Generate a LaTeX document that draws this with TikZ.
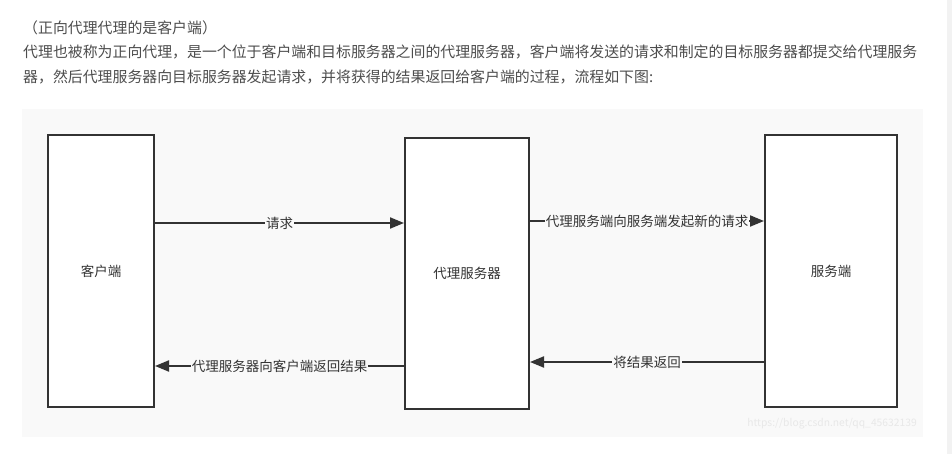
\documentclass[tikz,border=0pt]{standalone}
\usepackage{fontspec}
\newfontfamily\cjk{Noto Sans CJK SC}
\usepackage{tikz}
\usetikzlibrary{arrows.meta, positioning}
\definecolor{panelgray}{HTML}{F9F9F9}
\definecolor{linegray}{HTML}{333333}
\definecolor{textgray}{HTML}{4D4D4D}

\begin{document}
\begin{tikzpicture}[x=1pt, y=-1pt,
  every node/.style={font=\cjk},
  >={Triangle[length=14pt, width=11pt]},
  box/.style={draw=linegray, line width=2pt, fill=white, rectangle, inner sep=0pt,
    font=\cjk\fontsize{13.5}{16}\selectfont, text=linegray},
  arr/.style={->, draw=linegray, line width=2pt},
  lbl/.style={fill=panelgray, inner sep=1pt, text=linegray, font=\cjk\fontsize{13.5}{16}\selectfont},
  para/.style={anchor=west, inner sep=0pt, text=textgray, font=\cjk\fontsize{14.9}{18}\selectfont}]
  \useasboundingbox (0,0) rectangle (952,454);
  \fill[white] (0,0) rectangle (952,454);
  \fill[gray!10] (947,0) rectangle (952,454);

  % text above the drawing
  \node[para] (title) at (23,28) {（正向代理代理的是客户端）};
  \node[para] (line1) at (23,52) {代理也被称为正向代理，是一个位于客户端和目标服务器之间的代理服务器，客户端将发送的请求和制定的目标服务器都提交给代理服务};
  \node[para] (line2) at (23,77) {器，然后代理服务器向目标服务器发起请求，并将获得的结果返回给客户端的过程，流程如下图:};

  % panel
  \fill[panelgray] (22,109) rectangle (923,437);

  % the three parties
  \node[box, minimum width=106pt, minimum height=272pt] (client) at (101,271) {客户端};
  \node[box, minimum width=124pt, minimum height=271pt] (proxy) at (467,273.5) {代理服务器};
  \node[box, minimum width=132pt, minimum height=272pt] (server) at (831,271) {服务端};

  % requests (top)
  \draw[arr] (client.east |- 0,223) -- node[lbl] {请求} (proxy.west |- 0,223);
  \draw[arr] (proxy.east |- 0,221) -- node[lbl] {代理服务端向服务端发起新的请求} (server.west |- 0,221);

  % responses (bottom)
  \draw[arr] (server.west |- 0,362) -- node[lbl] {将结果返回} (proxy.east |- 0,362);
  \draw[arr] (proxy.west |- 0,366) -- node[lbl] {代理服务器向客户端返回结果} (client.east |- 0,366);

  \node[text=gray!18, font=\cjk\fontsize{10.3}{12}\selectfont] (mark) at (832,424) {https://blog.csdn.net/qq\_45632139};
\end{tikzpicture}
\end{document}
